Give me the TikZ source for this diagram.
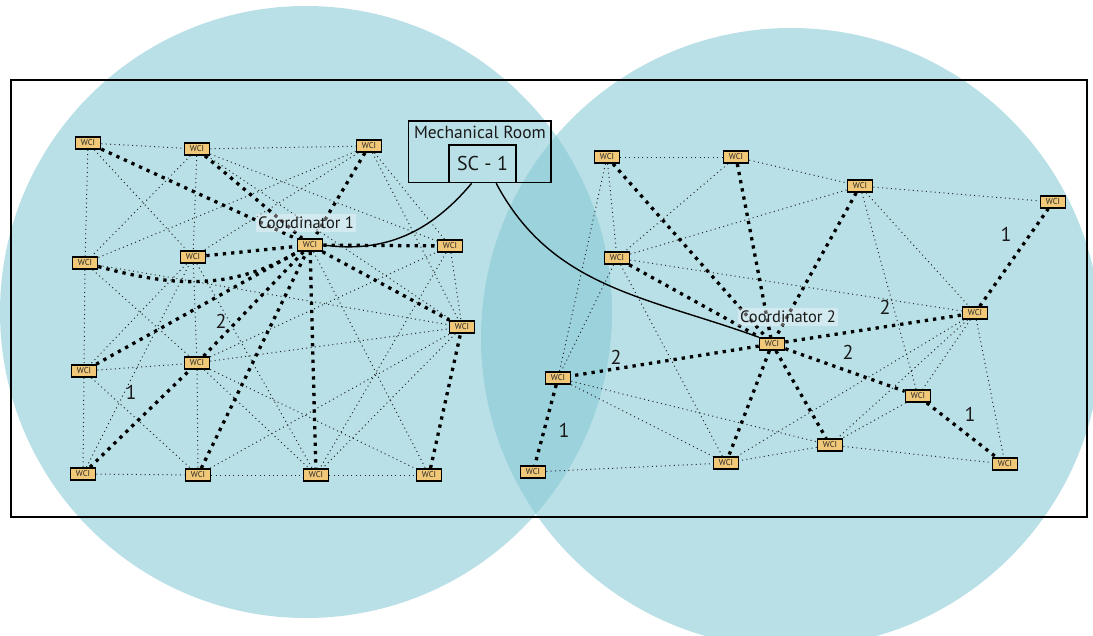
\documentclass[tikz,border=0pt]{standalone}
\usepackage{fontspec}
\setmainfont{PT Sans}
\setsansfont{PT Sans}
\usepackage{xcolor}
\definecolor{zone}{RGB}{130,200,212}
\definecolor{wcifill}{RGB}{240,200,120}
\definecolor{meshgray}{RGB}{40,40,40}

\begin{document}
\begin{tikzpicture}[x=1pt,y=-1pt,
        wci/.style={draw=black,line width=1.6pt,fill=wcifill,minimum width=25pt,minimum height=12pt,inner sep=0pt,font=\fontsize{8.5}{8.5}\selectfont,text=black!85},
        mesh/.style={draw=meshgray,line width=1pt,dash pattern=on 1pt off 3.4pt},
        route/.style={draw=black,line width=3.3pt,dash pattern=on 3.3pt off 5pt},
        hop/.style={font=\fontsize{20}{20}\selectfont,text=black!90},
        colabel/.style={fill=white,fill opacity=0.35,text opacity=1,text=black!90,font=\fontsize{16.5}{16.5}\selectfont,inner xsep=2pt,inner ysep=3pt}]

        % Background
        \clip (0,0) rectangle (1093,635);
        \fill[white] (0,0) rectangle (1093,635);
        \fill[zone,fill opacity=0.55] (306,312) circle[radius=306pt];
        \fill[zone,fill opacity=0.55] (791,338) circle[radius=310pt];
        \draw[line width=2.6pt] (11,80) rectangle (1087,517);

        % Mechanical room
        \node[draw,line width=1.5pt,minimum width=142.5pt,minimum height=61.5pt,inner sep=0pt] (mech) at (479.75,151.75) {};
        \node[font=\fontsize{17.5}{17.5}\selectfont,text=black!90] (mechtext) at (480,132) {Mechanical Room};
        \node[draw,line width=1.5pt,minimum width=67pt,minimum height=37.5pt,inner sep=0pt,font=\fontsize{20}{20}\selectfont,text=black!90] (sc) at (482.5,163.75) {SC - 1};

        % Zone 1
        \node[wci] (l1) at (88,143) {WCI};
        \node[wci] (l2) at (197,149) {WCI};
        \node[wci] (l3) at (369,146) {WCI};
        \node[wci] (co1) at (310,245) {WCI};
        \node[wci] (l4) at (450,246) {WCI};
        \node[wci] (l5) at (85,263) {WCI};
        \node[wci] (l6) at (193,257) {WCI};
        \node[wci] (l7) at (462,327) {WCI};
        \node[wci] (l8) at (84,371) {WCI};
        \node[wci] (l9) at (197,363) {WCI};
        \node[wci] (l10) at (83,474) {WCI};
        \node[wci] (l11) at (198,475) {WCI};
        \node[wci] (l12) at (316,475) {WCI};
        \node[wci] (l13) at (429,475) {WCI};

        % Zone 2
        \node[wci] (r1) at (607,157) {WCI};
        \node[wci] (r2) at (736,157) {WCI};
        \node[wci] (r3) at (860,186) {WCI};
        \node[wci] (r4) at (1053,202) {WCI};
        \node[wci] (r5) at (617,258) {WCI};
        \node[wci] (r6) at (975,313) {WCI};
        \node[wci] (co2) at (772,344) {WCI};
        \node[wci] (r7) at (558,378) {WCI};
        \node[wci] (r8) at (918,396) {WCI};
        \node[wci] (r9) at (830,445) {WCI};
        \node[wci] (r10) at (726,463) {WCI};
        \node[wci] (r11) at (533,472) {WCI};
        \node[wci] (r12) at (1005,464) {WCI};

        % Mesh links
        \foreach \a/\b in {l1/l2,l2/l3,l1/l5,l1/l6,l2/l5,l2/l6,l2/l4,l2/l7,l3/l5,l3/l6,l3/l4,l3/l7,
                l5/l8,l5/l9,l5/l7,l6/l8,l6/l9,l6/l12,l10/l6,l8/l9,l8/l10,l8/l11,l9/l11,l9/l7,l9/l12,
                l9/l4,l9/l13,l10/l11,l11/l12,l12/l13,l11/l7,l7/l12,l4/l12,co1/l13,l4/l7,
                r1/r2,r2/r3,r3/r4,r2/r5,r1/r5,r1/r7,r5/r7,r5/r3,r5/r6,r5/r10,r3/r8,r3/r6,
                r6/r12,r6/r8,r6/r9,r6/r10,r8/r9,r9/r12,r9/r10,r7/r10,r7/r9,r11/r10} {
            \draw[mesh] (\a) -- (\b);
        }

        % Routes
        \foreach \a/\b in {l1/co1,l2/co1,l3/co1,co1/l4,l6/co1,co1/l7,l8/co1,l9/co1,l11/co1,co1/l12,
                l10/l9,l13/l7,
                r1/co2,r2/co2,r3/co2,r5/co2,co2/r6,co2/r7,co2/r8,co2/r9,co2/r10,
                r6/r4,r7/r11,r8/r12} {
            \draw[route] (\a) -- (\b);
        }
        \draw[route] (l5) to[out=-15,in=-150] (co1);

        % Wiring to SC - 1
        \draw[line width=1.4pt] (sc.-119) to[out=-130,in=-8] (co1.east);
        \draw[line width=1.4pt] (sc.-55) to[out=-62,in=160] (co2.north west);

        % Labels
        \node[colabel] (co1text) at (306,223) {Coordinator 1};
        \node[colabel] (co2text) at (788,317) {Coordinator 2};
        \foreach \x/\y/\n in {221/321/2,131/392/1,616/357/2,564/430/1,885/307/2,848/352/2,970/414/1,1006/234/1} {
            \node[hop] (hop\x) at (\x,\y) {\n};
        }

    \end{tikzpicture}
\end{document}
